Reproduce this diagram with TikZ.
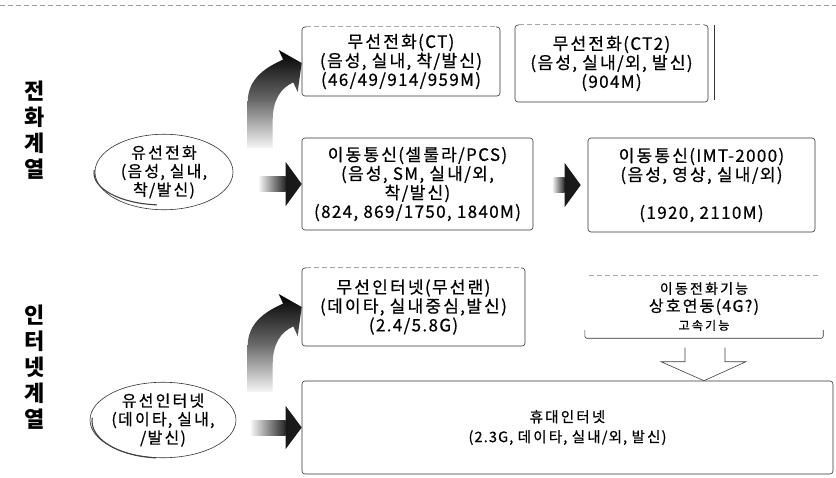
\documentclass[tikz,border=0pt]{standalone}
\usepackage{fontspec}
\setmainfont{Noto Sans CJK KR}
\newfontfamily\kf{Noto Sans CJK KR}[LetterSpace=8,FakeBold=0.6]
\usetikzlibrary{calc,shapes.geometric}
% extra spacing between consecutive Hangul syllables (Gulim-like tracking)
\XeTeXinterchartokenstate=1
\newXeTeXintercharclass\hangulcls
\makeatletter
\count@="AC00
\loop
  \XeTeXcharclass\count@=\hangulcls
  \advance\count@ 1
\ifnum\count@<"D7A4 \repeat
\makeatother
\XeTeXinterchartoks\hangulcls\hangulcls={\kern2.2pt}
\tikzset{
  box/.style={draw=black!80, line width=0.6pt, rounded corners=3pt, align=center, inner sep=0pt,
    font=\kf\fontsize{17}{19}\selectfont},
  ell/.style={ellipse, draw=black!80, line width=0.6pt, align=center, inner sep=0pt,
    font=\kf\fontsize{16}{18.5}\selectfont},
  gbox/.style={align=center, inner sep=0pt, font=\kf\fontsize{16}{18}\selectfont},
  side/.style={align=center, inner sep=0pt, font=\fontsize{22}{26}\selectfont\bfseries},
  faint/.style={draw=black!35, line width=0.5pt, dash pattern=on 5pt off 3pt},
  frame/.style={draw=black!80, line width=0.6pt},
}
\newcommand\shadearrow[4]{%
  \shade[left color=black!6, right color=black!85] ($(#1)+(-#2,-7.5)$) rectangle ($(#1)+(-#3,7.5)$);
  \fill[black!90] ($(#1)+(-#3,-#4)$) -- (#1) -- ($(#1)+(-#3,#4)$) -- cycle;}
\newcommand\curvearrow[1]{%
  \begin{scope}[shift={(#1)}]
  \shade[top color=black, bottom color=black!4, middle color=black!60]
    (-54,85) -- (-54,39) .. controls (-54,15) and (-35,4) .. (-18.6,-3.4) -- (-23,-13) -- (0,0)
    -- (-4,29) -- (-8.4,19.4) .. controls (-21,25) and (-29,37) .. (-29,57) -- (-29,85) -- cycle;
  \end{scope}}
\begin{document}
\begin{tikzpicture}[x=1pt,y=-1pt]
\useasboundingbox (0,0) rectangle (836,477);
\fill[white] (0,0) rectangle (836,477);
\draw[faint, draw=black!40] (0,5) -- (836,5);

\node[side] (lab1) at (35,130) {전\\화\\계\\열};
\node[side] (lab2) at (35,367) {인\\터\\넷\\계\\열};

\node[ell, minimum width=138pt, minimum height=64pt] (e1) at (164,172) {유선전화\\(음성, 실내,\\착/발신)};
\node[ell, minimum width=140pt, minimum height=74pt] (e2) at (163,420) {유선인터넷\\(데이타, 실내,\\/발신)};
% heavier lower-left rim of the ellipses
\draw[black!75, line width=1.1pt] ([shift={(-1,1)}]e1.center) ++(95:69 and 32) arc[start angle=95, end angle=185, x radius=69, y radius=32];
\draw[black!75, line width=1.1pt] ([shift={(-1,1)}]e2.center) ++(95:70 and 37) arc[start angle=95, end angle=185, x radius=70, y radius=37];

\node[box, minimum width=198pt, minimum height=69pt] (ct) at (401,61.5) {무선전화(CT)\\(음성, 실내, 착/발신)\\(46/49/914/959M)};
\node[box, minimum width=193pt, minimum height=77pt] (ct2) at (611.5,63.5) {무선전화(CT2)\\(음성, 실내/외, 발신)\\(904M)};
\node[box, minimum width=231pt, minimum height=92pt] (cell) at (417.5,184) {이동통신(셀룰라/PCS)\\(음성, SM, 실내/외,\\착/발신)\\(824, 869/1750, 1840M)};
\node[box, minimum width=227pt, minimum height=94pt] (imt) at (701.5,185) {이동통신(IMT-2000)\\(음성, 영상, 실내/외)\\[19pt](1920, 2110M)};
\node[box, minimum width=223pt, minimum height=78pt] (wl) at (413.5,307) {무선인터넷(무선랜)\\(데이타, 실내중심,발신)\\(2.4/5.8G)};
\node[gbox, minimum width=238pt, minimum height=63pt] (g4) at (704,306.5) {{\fontsize{14}{17}\selectfont 이동전화기능}\\상호연동(4G?)\\{\fontsize{12}{15}\selectfont 고속기능}};
\node[box, font=\kf\fontsize{14.5}{20}\selectfont, minimum width=531pt, minimum height=93pt] (pint) at (567.5,427.5) {휴대인터넷\\(2.3G, 데이타, 실내/외, 발신)};

% faint top edges
\foreach \n in {ct,ct2,wl} {
  \draw[white, line width=1.6pt] ([xshift=4pt]\n.north west) -- ([xshift=-4pt]\n.north east);
  \draw[faint] ([xshift=4pt]\n.north west) -- ([xshift=-4pt]\n.north east);
}
% shadow edge of CT2
\draw[frame] ([xshift=6pt]ct2.north east) -- ([xshift=6pt,yshift=2pt]ct2.south east);

% bracket of the 4G box
\draw[faint] ([xshift=4pt]g4.north west) -- ([xshift=-4pt]g4.north east);
\draw[frame, rounded corners=2pt] ([yshift=8pt]g4.south west) -- (g4.south west) -- (g4.south east) -- ([yshift=8pt]g4.south east);

% hollow arrow from 4G box to portable internet
\coordinate (ctip) at (g4.south |- pint.north);
\draw[black!75, line width=0.6pt] ($(ctip)+(-19,-33)$) -- ($(ctip)+(-19,-19)$) -- ($(ctip)+(-43,-19)$) -- (ctip)
  -- ($(ctip)+(42,-19)$) -- ($(ctip)+(21,-19)$) -- ($(ctip)+(21,-33)$);

% shaded straight arrows
\shadearrow{cell.west}{42}{16}{22}
\coordinate (mtip) at ([xshift=-7pt]imt.west);
\shadearrow{mtip}{28}{16}{22}
\shadearrow{pint.west}{50}{16}{21.5}

% shaded curved arrows
\coordinate (c1) at ([yshift=-1.5pt]ct.west);
\curvearrow{c1}
\curvearrow{wl.west}
\end{tikzpicture}
\end{document}
